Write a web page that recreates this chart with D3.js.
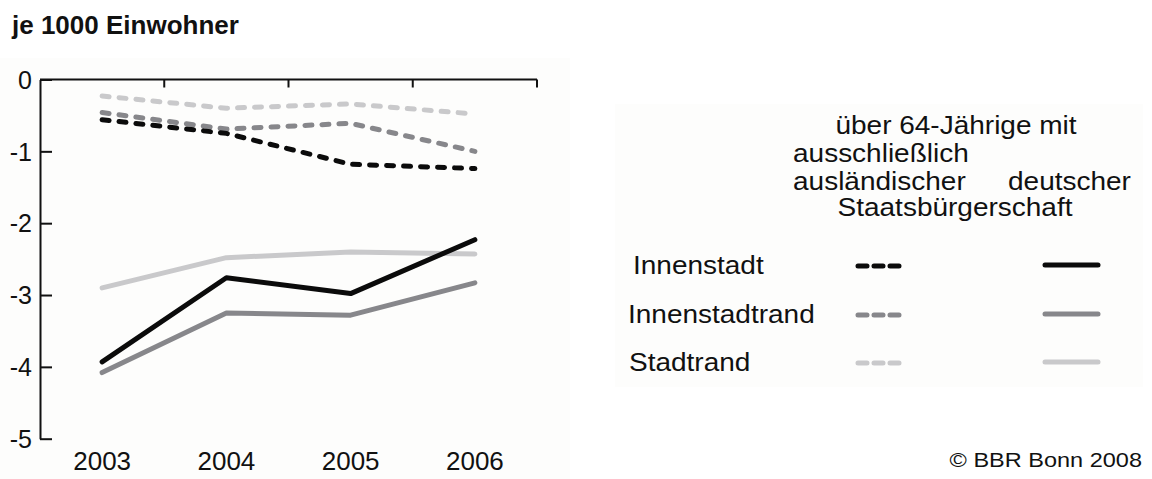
<!DOCTYPE html>
<html><head><meta charset="utf-8">
<script src="https://cdn.jsdelivr.net/npm/d3@7"></script>
<style>
body{margin:0;background:#fff;}
svg{display:block;font-family:"Liberation Sans",Arial,sans-serif;}
</style></head>
<body><svg id="c" width="1152" height="479"></svg>
<script>
const years = ["2003","2004","2005","2006"];
const yTicks = [0,-1,-2,-3,-4,-5];
const regions = ["Innenstadt","Innenstadtrand","Stadtrand"];
// ausschließlich ausländische Staatsbürgerschaft (dashed)
const auslInnenstadt     = [-0.56,-0.75,-1.18,-1.24];
const auslInnenstadtrand = [-0.46,-0.69,-0.61,-1.00];
const auslStadtrand      = [-0.23,-0.40,-0.34,-0.48];
// deutsche Staatsbürgerschaft (solid)
const deutInnenstadt     = [-3.93,-2.76,-2.98,-2.23];
const deutInnenstadtrand = [-4.08,-3.25,-3.28,-2.83];
const deutStadtrand      = [-2.90,-2.48,-2.40,-2.43];
const headerLines = ["über 64-Jährige mit","ausschließlich","ausländischer","deutscher","Staatsbürgerschaft"];
const title = "je 1000 Einwohner";
const credit = "© BBR Bonn 2008";

const colors = {"Innenstadt":"#0b0b0b","Innenstadtrand":"#87878b","Stadtrand":"#c9c9cb"};
const dashed = [
  {region:"Stadtrand", values:auslStadtrand},
  {region:"Innenstadtrand", values:auslInnenstadtrand},
  {region:"Innenstadt", values:auslInnenstadt}
];
const solid = [
  {region:"Stadtrand", values:deutStadtrand},
  {region:"Innenstadtrand", values:deutInnenstadtrand},
  {region:"Innenstadt", values:deutInnenstadt}
];

const svg = d3.select("#c");
// very subtle panels
svg.append("rect").attr("x",0).attr("y",58).attr("width",570).attr("height",421).attr("fill","#fdfdfc");
svg.append("rect").attr("x",615).attr("y",104).attr("width",528).attr("height",283).attr("fill","#fdfdfc");

const x = d3.scaleBand().domain(years).range([40,537]);
const y = d3.scaleLinear().domain([-5,0]).range([438.7,79.5]);

function stretchText(g, str, px, py, anchor, size, sx, weight){
  return g.append("text").attr("transform",`translate(${px},${py}) scale(${sx},1)`)
    .attr("text-anchor",anchor).attr("font-size",size).attr("font-weight",weight||"normal")
    .attr("fill","#111").text(str);
}

// title
stretchText(svg, title, 12, 34, "start", 26, 1.0, "bold");

// y axis
const yAxis = d3.axisLeft(y).tickValues(yTicks).tickSizeInner(-12).tickSizeOuter(0).tickPadding(8)
  .tickFormat(d => String(d));
const gy = svg.append("g").attr("transform","translate(40,0)").call(yAxis);
gy.select(".domain").attr("stroke","#111").attr("stroke-width",2);
gy.selectAll(".tick line").attr("stroke","#111").attr("stroke-width",2);
gy.selectAll(".tick text").attr("font-size",25).attr("fill","#111")
  .attr("font-family","Liberation Sans, Arial, sans-serif").attr("dy","0.35em");

// top axis line with ticks at band boundaries
svg.append("line").attr("x1",x.range()[0]).attr("x2",x.range()[1]).attr("y1",y(0)).attr("y2",y(0))
  .attr("stroke","#111").attr("stroke-width",2);
svg.selectAll("line.xt").data(years).enter().append("line").attr("class","xt")
  .attr("x1",d=>x(d)+x.bandwidth()).attr("x2",d=>x(d)+x.bandwidth())
  .attr("y1",y(0)).attr("y2",y(0)+8).attr("stroke","#111").attr("stroke-width",2);

// x labels
years.forEach(yr=>{
  stretchText(svg, yr, x(yr)+x.bandwidth()/2, 470, "middle", 25, 1.04);
});

const line = d3.line().x((d,i)=>x(years[i])+x.bandwidth()/2).y(d=>y(d)).curve(d3.curveLinear);

svg.selectAll("path.sol").data(solid).enter().append("path").attr("class","sol")
  .attr("d",d=>line(d.values)).attr("fill","none").attr("stroke",d=>colors[d.region])
  .attr("stroke-width",5).attr("stroke-linejoin","round").attr("stroke-linecap","round");
svg.selectAll("path.das").data(dashed).enter().append("path").attr("class","das")
  .attr("d",d=>line(d.values)).attr("fill","none").attr("stroke",d=>colors[d.region])
  .attr("stroke-width",5).attr("stroke-linejoin","round").attr("stroke-linecap","round")
  .attr("stroke-dasharray","7,10");

// legend
const lg = svg.append("g");
stretchText(lg, headerLines[0], 956, 134, "middle", 25, 1.12);
stretchText(lg, headerLines[1], 793, 162, "start", 25, 1.12);
stretchText(lg, headerLines[2], 793, 190, "start", 25, 1.12);
stretchText(lg, headerLines[3], 1008, 190, "start", 25, 1.12);
stretchText(lg, headerLines[4], 955, 216, "middle", 25, 1.12);

const legY = [266, 315, 363];
const labX = [633, 628, 629];
regions.forEach((r,i)=>{
  stretchText(lg, r, labX[i], legY[i]+8, "start", 25, 1.12);
  lg.append("line").attr("x1",858).attr("x2",902).attr("y1",legY[i]).attr("y2",legY[i])
    .attr("stroke",colors[r]).attr("stroke-width",5).attr("stroke-linecap","round").attr("stroke-dasharray","9,7");
  lg.append("line").attr("x1",1045).attr("x2",1098).attr("y1",legY[i]-1).attr("y2",legY[i]-1)
    .attr("stroke",colors[r]).attr("stroke-width",5).attr("stroke-linecap","round");
});

stretchText(svg, credit, 1142, 467, "end", 21, 1.12);
</script></body></html>
